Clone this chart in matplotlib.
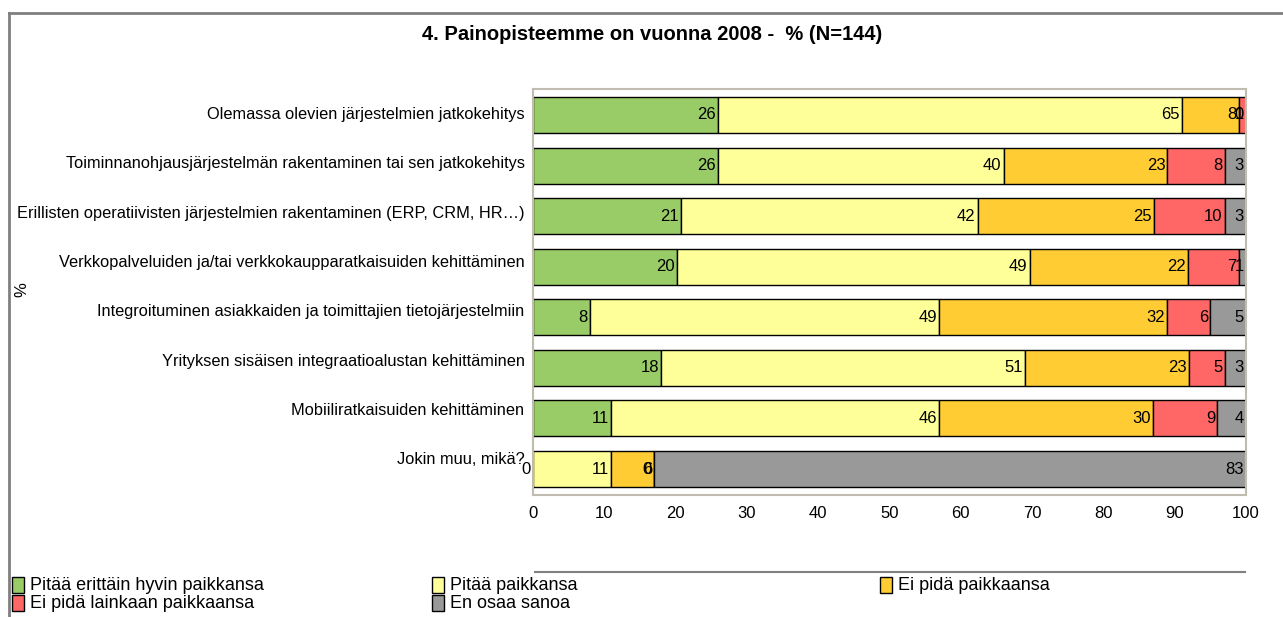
import matplotlib.pyplot as plt
from matplotlib.patches import Rectangle
from matplotlib.lines import Line2D

plt.rcParams['font.family'] = ['Liberation Sans', 'DejaVu Sans']

kategoriat = [
    "Olemassa olevien järjestelmien jatkokehitys",
    "Toiminnanohjausjärjestelmän rakentaminen tai sen jatkokehitys",
    "Erillisten operatiivisten järjestelmien rakentaminen (ERP, CRM, HR…)",
    "Verkkopalveluiden ja/tai verkkokaupparatkaisuiden kehittäminen",
    "Integroituminen asiakkaiden ja toimittajien tietojärjestelmiin",
    "Yrityksen sisäisen integraatioalustan kehittäminen",
    "Mobiiliratkaisuiden kehittäminen",
    "Jokin muu, mikä?",
]
sarjat = ["Pitää erittäin hyvin paikkansa", "Pitää paikkansa", "Ei pidä paikkaansa",
          "Ei pidä lainkaan paikkaansa", "En osaa sanoa"]
hyvin = [26, 26, 21, 20, 8, 18, 11, 0]
pitaa = [65, 40, 42, 49, 49, 51, 46, 11]
ei_pida = [8, 23, 25, 22, 32, 23, 30, 6]
ei_lainkaan = [1, 8, 10, 7, 6, 5, 9, 0]
en_osaa = [0, 3, 3, 1, 5, 3, 4, 83]
arvot = [hyvin, pitaa, ei_pida, ei_lainkaan, en_osaa]
varit = ["#99CC66", "#FFFF99", "#FFCC33", "#FF6666", "#999999"]

# rivit skaalataan 100 %:iin (pyöristetyt luvut eivät aina summaudu 100:aan)
summat = [sum(r) for r in zip(*arvot)]

fig = plt.figure(figsize=(12.83, 6.17), dpi=100)
ax = fig.add_axes([0.4154, 0.1977, 0.9711 - 0.4154, 0.8558 - 0.1977])

y = list(range(len(kategoriat)))
vasen = [0] * len(kategoriat)
for arvo, vari in zip(arvot, varit):
    leveys = [v / s * 100 for v, s in zip(arvo, summat)]
    ax.barh(y, leveys, left=vasen, height=0.71, color=vari, edgecolor="black", linewidth=1)
    for i, v in enumerate(arvo):
        ax.text(vasen[i] + leveys[i] - 0.3, i, str(v), ha="right", va="center", fontsize=12)
    vasen = [a + b for a, b in zip(vasen, leveys)]

ax.set_xlim(0, 100)
ax.set_ylim(7.514, -0.514)
ax.set_xticks(range(0, 101, 10))
# luokkien nimet ovat alkuperäisessä hieman tiheämmässä kuin palkit
ax.set_yticks([i * 0.975 - 0.04 for i in y])
ax.set_yticklabels(kategoriat, fontsize=11.8)
ax.tick_params(axis="both", length=0)
ax.tick_params(axis="x", pad=8, labelsize=12)
ax.tick_params(axis="y", pad=6)
for s in ax.spines.values():
    s.set_color("#C0BDB0")
    s.set_linewidth(1.5)

fig.text(22 / 1283, 1 - 290 / 617, "%", rotation=90, ha="center", va="center", fontsize=12)
fig.text(652 / 1283, 1 - 34 / 617, "4. Painopisteemme on vuonna 2008 -  % (N=144)",
         ha="center", va="center", fontsize=14.5, fontweight="bold")

# kehys
fig.add_artist(Line2D([9 / 1283, 1], [1 - 13 / 617] * 2, color="#808080", linewidth=2))
fig.add_artist(Line2D([9 / 1283] * 2, [0, 1 - 13 / 617], color="#808080", linewidth=2))
fig.add_artist(Line2D([535 / 1283, 1245 / 1283], [1 - 572 / 617] * 2, color="#808080", linewidth=1.5))

# selite
paikat = [(12, 585), (432, 585), (880, 585), (12, 603), (432, 603)]
for (px, py), nimi, vari in zip(paikat, sarjat, varit):
    fig.patches.append(Rectangle((px / 1283, 1 - (py + 8) / 617), 12 / 1283, 16 / 617,
                                 facecolor=vari, edgecolor="black", linewidth=1,
                                 transform=fig.transFigure, figure=fig))
    fig.text((px + 18) / 1283, 1 - py / 617, nimi, ha="left", va="center", fontsize=13)

fig.savefig("out.png", dpi=100)
